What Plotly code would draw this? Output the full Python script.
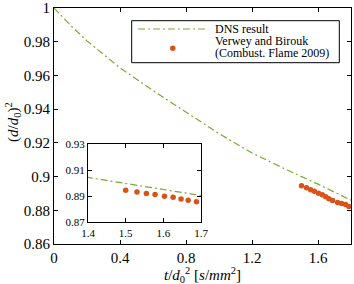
import plotly.graph_objects as go

# ---- data ----
dns_t = [0.0, 0.1, 0.2, 0.4, 0.6, 0.8, 1.0, 1.2, 1.4, 1.6, 1.8]
dns_y = [1.0, 0.9897, 0.9805, 0.9645, 0.951, 0.938, 0.9255, 0.914, 0.9045, 0.8955, 0.886]
exp_t = [1.50, 1.53, 1.555, 1.578, 1.603, 1.626, 1.647, 1.666, 1.688, 1.719, 1.743, 1.767, 1.787]
exp_y = [0.8946, 0.8933, 0.8922, 0.8913, 0.8901, 0.8892, 0.8880, 0.8869, 0.8858, 0.8846, 0.8840, 0.8834, 0.8822]

x_ticks = [0, 0.4, 0.8, 1.2, 1.6]
x_ticktext = ["0", "0.4", "0.8", "1.2", "1.6"]
y_ticks = [0.86, 0.88, 0.9, 0.92, 0.94, 0.96, 0.98, 1.0]
y_ticktext = ["0.86", "0.88", "0.9", "0.92", "0.94", "0.96", "0.98", "1"]
ix_ticks = [1.4, 1.5, 1.6, 1.7]
ix_ticktext = ["1.4", "1.5", "1.6", "1.7"]
iy_ticks = [0.87, 0.89, 0.91, 0.93]
iy_ticktext = ["0.87", "0.89", "0.91", "0.93"]

GREEN = "#77AC30"
ORANGE = "#D95319"
FONT = "Liberation Serif"
W, H = 354, 284
ML, MR, MT, MB = 54, 3, 8, 40
PW, PH = W - ML - MR, H - MT - MB

def px(x):
    return (x - ML) / PW

def py(y):
    return 1 - (y - MT) / PH

dash = "7px,3px,2px,3px"

fig = go.Figure()
fig.add_trace(go.Scatter(x=dns_t, y=dns_y, mode="lines",
                         line=dict(color=GREEN, width=1.2, dash=dash),
                         xaxis="x", yaxis="y", showlegend=False))
fig.add_trace(go.Scatter(x=exp_t, y=exp_y, mode="markers",
                         marker=dict(color=ORANGE, size=5.5),
                         xaxis="x", yaxis="y", showlegend=False))
fig.add_trace(go.Scatter(x=dns_t, y=dns_y, mode="lines",
                         line=dict(color=GREEN, width=1.2, dash=dash),
                         xaxis="x2", yaxis="y2", showlegend=False))
fig.add_trace(go.Scatter(x=exp_t, y=exp_y, mode="markers",
                         marker=dict(color=ORANGE, size=5.5),
                         xaxis="x2", yaxis="y2", showlegend=False))

axis_common = dict(showline=True, linecolor="black", linewidth=1, mirror="ticks",
                   ticks="inside", ticklen=4, tickcolor="black", showgrid=False,
                   zeroline=False, automargin=False)

fig.update_layout(
    width=W, height=H,
    margin=dict(l=ML, r=MR, t=MT, b=MB, autoexpand=False),
    paper_bgcolor="white", plot_bgcolor="white",
    font=dict(family=FONT, color="black", size=15),
    xaxis=dict(range=[0, 1.8], tickvals=x_ticks, ticktext=x_ticktext,
               tickfont=dict(size=15), **axis_common),
    yaxis=dict(range=[0.86, 1.0], tickvals=y_ticks, ticktext=y_ticktext,
               tickfont=dict(size=15), **axis_common),
    xaxis2=dict(domain=[px(88), px(201)], anchor="y2", range=[1.4, 1.7],
                tickvals=ix_ticks, ticktext=ix_ticktext,
                tickfont=dict(size=11), **axis_common),
    yaxis2=dict(domain=[py(222.3), py(144.3)], anchor="x2", range=[0.87, 0.93],
                tickvals=iy_ticks, ticktext=iy_ticktext,
                tickfont=dict(size=11), **axis_common),
)

shapes = [
    # legend box
    dict(type="rect", xref="paper", yref="paper",
         x0=px(131.7), x1=px(339.3), y0=py(62.7), y1=py(20.7),
         line=dict(color="black", width=1), fillcolor="white", layer="below"),
    dict(type="line", xref="paper", yref="paper",
         x0=px(138), x1=px(208), y0=py(29), y1=py(29),
         line=dict(color=GREEN, width=1.2, dash=dash)),
    dict(type="circle", xref="paper", yref="paper",
         x0=px(170), x1=px(175.5), y0=py(51), y1=py(45.5),
         line=dict(color=ORANGE, width=0), fillcolor=ORANGE),
]
fig.update_layout(shapes=shapes)

annotations = [
    dict(text="DNS result", x=px(213), y=py(29)),
    dict(text="Verwey and Birouk", x=px(213), y=py(41)),
    dict(text="(Combust. Flame 2009)", x=px(213), y=py(53)),
]
for a in annotations:
    a.update(xref="paper", yref="paper", xanchor="left", yanchor="middle",
             showarrow=False, font=dict(size=12, family=FONT))
fig.update_layout(annotations=annotations)

fig.add_annotation(text="<i>t</i>/<i>d</i><sub>0</sub><sup>2</sup> [<i>s</i>/<i>mm</i><sup>2</sup>]",
                   xref="paper", yref="paper", x=px(202), y=py(262.5),
                   xanchor="center", yanchor="top", showarrow=False,
                   font=dict(size=15, family=FONT))
fig.add_annotation(text="(<i>d</i>/<i>d</i><sub>0</sub>)<sup>2</sup>",
                   xref="paper", yref="paper", x=px(13), y=py(122),
                   xanchor="center", yanchor="middle", showarrow=False, textangle=-90,
                   font=dict(size=15, family=FONT))

fig.write_html("out.html",
               config={"displayModeBar": False},
               post_script="document.body.style.margin='0';document.body.style.padding='0';")
